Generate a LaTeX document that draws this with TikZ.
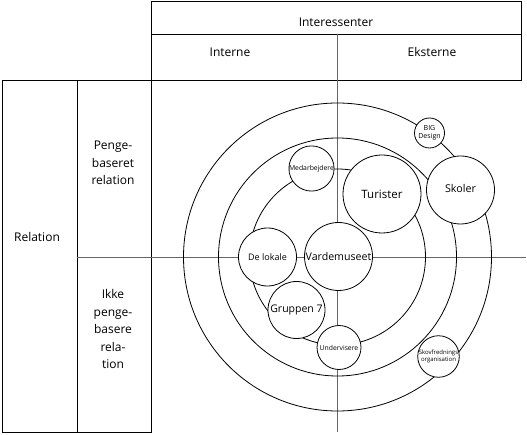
\documentclass[tikz,border=0pt]{standalone}
\usepackage{fontspec}
\setmainfont{Open Sans}
\tikzset{
  frame/.style={draw=black, line width=0.8pt},
  axisline/.style={draw=black!60, line width=0.9pt},
  ring/.style={draw=black, line width=0.8pt},
  bubble/.style={circle, draw=black, fill=white, line width=0.8pt, inner sep=0pt, align=center},
  head/.style={font=\fontsize{12}{17.5}\selectfont, align=center, inner sep=0pt}
}
\begin{document}
\begin{tikzpicture}[x=1pt,y=-1pt]
\useasboundingbox (0,0) rectangle (527,435);
% tables
\coordinate (t1) at (151,1);
\coordinate (t2) at (521,80);
\draw[frame] (t1) rectangle (t2);
\coordinate (tm1) at (151,34);
\coordinate (tm2) at (521,34);
\draw[frame] (tm1) -- (tm2);
\coordinate (l1) at (2,80);
\coordinate (l2) at (151,432);
\draw[frame] (l1) rectangle (l2);
\coordinate (lm1) at (77,80);
\coordinate (lm2) at (77,432);
\draw[frame] (lm1) -- (lm2);
% labels
\node[head] (interessenter) at (336,22) {Interessenter};
\node[head] (interne) at (230,52) {Interne};
\node[head] (eksterne) at (432,52) {Eksterne};
\node[head] (relation) at (37,237) {Relation};
\node[head] (penge) at (113,163) {Penge-\\baseret\\relation};
\node[head] (ikke) at (113,329) {Ikke\\penge-\\basere\\rela-\\tion};
% axes
\coordinate (c) at (337.5,257);
\coordinate (vtop) at (337,34);
\coordinate (vbot) at (337,432);
\coordinate (hl) at (77,257);
\coordinate (hr) at (526,257);
\draw[axisline] (vtop) -- (vbot);
\draw[axisline] (hl) -- (hr);
% rings
\draw[ring] (c) circle[radius=88];
\draw[ring] (c) circle[radius=119];
\draw[ring] (c) circle[radius=154];
% bubbles
\node[bubble, minimum size=68pt, font=\fontsize{10.6}{12}\selectfont] (varde) at (338.5,256.5) {Vardemuseet};
\node[bubble, minimum size=58pt, font=\fontsize{9}{11}\selectfont] (lokale) at (267.5,257) {De lokale};
\node[bubble, minimum size=45pt, font=\fontsize{6.8}{8}\selectfont] (medarb) at (311.5,168.5) {Medarbejdere};
\node[bubble, minimum size=78pt, font=\fontsize{11.5}{13}\selectfont] (turister) at (382,194) {Turister};
\node[bubble, minimum size=68pt, font=\fontsize{10.7}{12}\selectfont] (skoler) at (460.5,190) {\raisebox{3pt}{Skoler}};
\node[bubble, minimum size=30pt, font=\fontsize{7}{8}\selectfont] (big) at (429.5,133) {BIG\\Design};
\node[bubble, minimum size=57pt, font=\fontsize{10.5}{12}\selectfont] (gruppen) at (296.5,310) {Gruppen 7};
\node[bubble, minimum size=44pt, font=\fontsize{6.8}{8}\selectfont] (underv) at (339,347.5) {Undervisere};
\node[bubble, minimum size=41pt, font=\fontsize{6}{7.5}\selectfont] (skov) at (438.5,356.5) {Skovfrednings\\organisation};
\end{tikzpicture}
\end{document}
